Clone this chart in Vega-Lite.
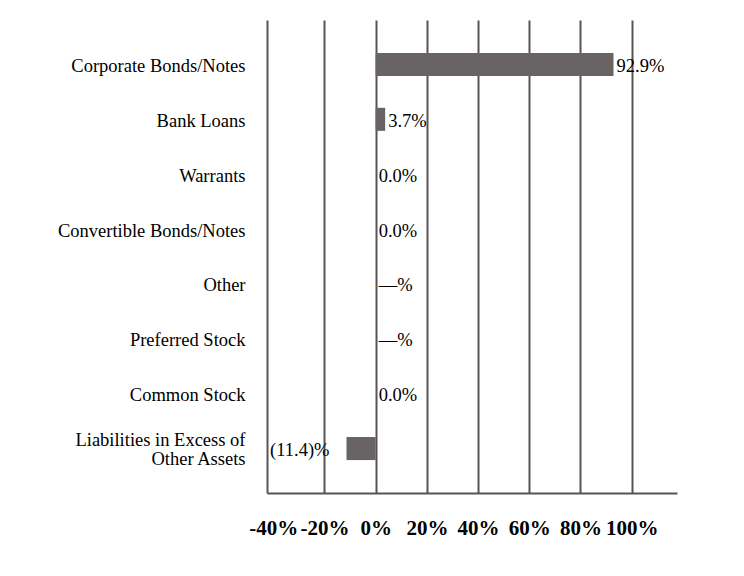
{
  "$schema": "https://vega.github.io/schema/vega-lite/v6.json",
  "width": 410,
  "height": 473,
  "autosize": {"type": "none"},
  "padding": {"left": 267, "top": 20, "right": 67, "bottom": 83},
  "background": "white",
  "config": {"view": {"stroke": null}, "font": "Liberation Serif", "axis": {"labelFont": "Liberation Serif"}},
  "data": {
    "values": [
      {"category": "Corporate Bonds/Notes", "value": 92.9, "label": "92.9%"},
      {"category": "Bank Loans", "value": 3.7, "label": "3.7%"},
      {"category": "Warrants", "value": 0.0, "label": "0.0%"},
      {"category": "Convertible Bonds/Notes", "value": 0.0, "label": "0.0%"},
      {"category": "Other", "value": 0, "label": "—%"},
      {"category": "Preferred Stock", "value": 0, "label": "—%"},
      {"category": "Common Stock", "value": 0.0, "label": "0.0%"},
      {"category": "Liabilities in Excess of Other Assets", "value": -11.4, "label": "(11.4)%"}
    ]
  },
  "encoding": {
    "y": {
      "field": "category",
      "type": "nominal",
      "sort": null,
      "scale": {"paddingInner": 0.58, "paddingOuter": 0.6},
      "axis": {
        "title": null,
        "ticks": false,
        "domain": true,
        "domainColor": "#585454",
        "domainWidth": 2,
        "labelFont": "Liberation Serif",
        "labelFontSize": 18.5,
        "labelColor": "black",
        "labelPadding": 22,
        "labelLimit": 300,
        "labelLineHeight": 19,
        "labelOffset": {"condition": {"test": "datum.value == 'Liabilities in Excess of Other Assets'", "value": -8.5}, "value": 1.5},
        "labelExpr": "datum.value == 'Liabilities in Excess of Other Assets' ? ['Liabilities in Excess of', 'Other Assets'] : datum.value"
      }
    }
  },
  "layer": [
    {
      "mark": {"type": "bar", "color": "#686463"},
      "encoding": {
        "x": {
          "field": "value",
          "type": "quantitative",
          "scale": {"domain": [-42.45, 117.7], "nice": false, "zero": false},
          "axis": {
            "title": null,
            "values": [-40, -20, 0, 20, 40, 60, 80, 100],
            "labelExpr": "datum.value + '%'",
            "labelOverlap": false,
            "labelFlush": false,
            "ticks": false,
            "grid": true,
            "gridColor": "#585454",
            "gridWidth": 2,
            "gridOpacity": {"condition": {"test": "datum.value == -40", "value": 0}, "value": 1},
            "domain": true,
            "domainColor": "#585454",
            "domainWidth": 2,
            "labelFont": "Liberation Serif",
            "labelFontSize": 21,
            "labelFontWeight": "bold",
            "labelColor": "black",
            "labelPadding": 24
          }
        }
      }
    },
    {
      "transform": [{"filter": "datum.value >= 0"}],
      "mark": {"type": "text", "align": "left", "dx": 3, "dy": 1.5, "font": "Liberation Serif", "fontSize": 18.5, "color": "black"},
      "encoding": {
        "x": {"field": "value", "type": "quantitative"},
        "text": {"field": "label"}
      }
    },
    {
      "transform": [{"filter": "datum.value < 0"}],
      "mark": {"type": "text", "align": "right", "dx": -17, "dy": 1.5, "font": "Liberation Serif", "fontSize": 18.5, "color": "black"},
      "encoding": {
        "x": {"field": "value", "type": "quantitative"},
        "text": {"field": "label"}
      }
    }
  ]
}
